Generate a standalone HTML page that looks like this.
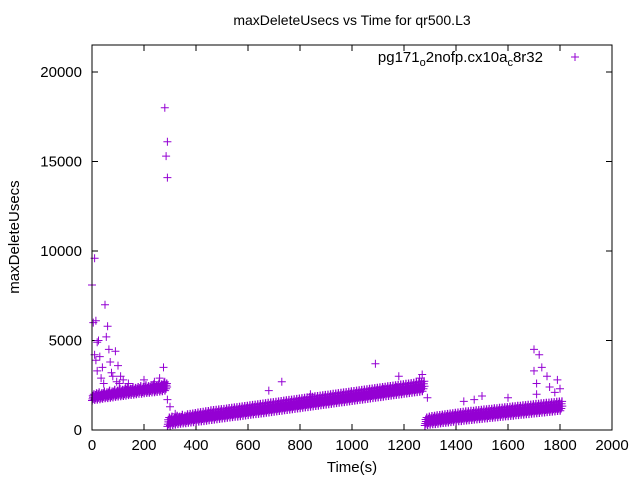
<!DOCTYPE html>
<html><head><meta charset="utf-8"><style>
body{margin:0;background:#fff}
svg{font-family:"Liberation Sans",sans-serif}
</style></head><body>
<svg id="chart" width="640" height="480" xmlns="http://www.w3.org/2000/svg">
<text x="352" y="25" font-size="14" text-anchor="middle">maxDeleteUsecs vs Time for qr500.L3</text>
<text transform="translate(19,237) rotate(-90)" font-size="15" text-anchor="middle">maxDeleteUsecs</text>
<text x="352" y="472" font-size="15" text-anchor="middle">Time(s)</text>
<g id="axes"></g>
<g id="marks"></g>
<rect x="92" y="45" width="520" height="385" fill="none" stroke="#000" stroke-width="1"/>
<text x="543" y="62" font-size="15" text-anchor="end">pg171<tspan font-size="11" dy="4">o</tspan><tspan dy="-4">2nofp.cx10a</tspan><tspan font-size="11" dy="4">c</tspan><tspan dy="-4">8r32</tspan></text>
<path d="M571 57h8M575 53v8" stroke="#9400d3" stroke-width="1"/>
</svg>
<script>
const xTicks=[0,200,400,600,800,1000,1200,1400,1600,1800,2000];
const yTicks=[0,5000,10000,15000,20000];
// band data: [time, low, high]
const band=[
[0,1650,2000],[10,1680,2050],[20,1700,2100],[30,1720,2050],[40,1750,2150],[50,1770,2100],[60,1780,2200],[70,1800,2150],[80,1820,2250],[90,1850,2200],[100,1870,2300],[110,1890,2250],[120,1900,2300],[130,1920,2350],[140,1950,2300],[150,1960,2400],[160,1980,2350],[170,2000,2400],[180,2020,2450],[190,2030,2400],[200,2050,2500],[210,2070,2450],[220,2080,2500],[230,2100,2550],[240,2110,2500],[250,2130,2600],[260,2150,2550],[270,2170,2650],[280,2200,2600],
[290,200,700],[300,250,750],[310,280,700],[320,300,800],[330,330,750],[340,350,850],[350,370,800],[360,380,880],[370,400,900],[380,420,920],[390,430,950],[400,450,980],[410,470,1000],[420,480,1020],[430,500,1050],[440,520,1060],[450,540,1100],[460,560,1120],[470,580,1130],[480,600,1150],[490,620,1170],[500,640,1180],[510,660,1200],[520,680,1230],[530,700,1240],[540,720,1260],[550,740,1280],[560,750,1300],[570,770,1320],[580,790,1340],[590,810,1360],[600,830,1380],[610,850,1400],[620,870,1420],[630,890,1440],[640,900,1460],[650,920,1480],[660,940,1500],[670,960,1520],[680,980,1540],[690,1000,1560],[700,1020,1580],[710,1040,1600],[720,1060,1620],[730,1080,1640],[740,1100,1660],[750,1120,1680],[760,1140,1700],[770,1160,1720],[780,1180,1740],[790,1200,1760],[800,1220,1780],[810,1240,1800],[820,1260,1820],[830,1280,1840],[840,1300,1860],[850,1320,1880],[860,1340,1900],[870,1360,1920],[880,1380,1940],[890,1400,1960],[900,1420,1980],[910,1440,2000],[920,1460,2020],[930,1480,2040],[940,1500,2060],[950,1520,2080],[960,1540,2100],[970,1560,2120],[980,1580,2140],[990,1600,2160],[1000,1620,2180],[1010,1640,2200],[1020,1660,2220],[1030,1680,2240],[1040,1700,2260],[1050,1720,2280],[1060,1740,2300],[1070,1760,2320],[1080,1780,2340],[1090,1800,2360],[1100,1820,2380],[1110,1840,2400],[1120,1860,2420],[1130,1880,2440],[1140,1900,2460],[1150,1920,2480],[1160,1940,2500],[1170,1960,2520],[1180,1980,2540],[1190,2000,2560],[1200,2020,2580],[1210,2040,2600],[1220,2060,2620],[1230,2080,2640],[1240,2100,2660],[1250,2120,2680],[1260,2140,2700],[1270,2160,2720],
[1280,250,700],[1290,280,750],[1300,300,780],[1310,320,800],[1320,330,820],[1330,350,840],[1340,370,860],[1350,390,880],[1360,400,900],[1370,420,920],[1380,440,940],[1390,460,960],[1400,470,980],[1410,490,1000],[1420,500,1020],[1430,520,1040],[1440,530,1050],[1450,550,1070],[1460,560,1080],[1470,580,1100],[1480,590,1110],[1490,610,1130],[1500,620,1150],[1510,640,1160],[1520,650,1180],[1530,670,1190],[1540,680,1210],[1550,700,1220],[1560,710,1240],[1570,730,1250],[1580,740,1270],[1590,760,1280],[1600,770,1300],[1610,790,1320],[1620,800,1330],[1630,820,1350],[1640,830,1360],[1650,850,1380],[1660,860,1390],[1670,880,1410],[1680,890,1420],[1690,910,1440],[1700,920,1460],[1710,940,1470],[1720,950,1490],[1730,970,1500],[1740,980,1520],[1750,1000,1530],[1760,1010,1550],[1770,1030,1560],[1780,1040,1580],[1790,1060,1590],[1800,1070,1600]];
const outlierTimes=[0,10,5,15,20,25,30,40,50,55,60,65,70,80,90,100,105,110,120,130,10,20,35,45,280,290,285,290,275,280,285,290,300,320,1090,1180,1270,1260,1290,1700,1720,1730,1750,1760,1780,1790,1710,1800,1500,1600,730,680,840,1170,1120,1470,1430,15,75,95,140,200,240,260,1700,1710];
const outlierValues=[8100,9600,6000,6100,4900,5000,4100,3500,7000,5200,5800,4500,3800,3000,4400,3600,2600,3000,2800,2400,4200,3300,2900,2600,18000,16100,15300,14100,3500,2700,2400,1700,1300,900,3700,3000,3100,2900,1800,4500,4200,3500,3000,2400,2100,2800,2000,2300,1900,1800,2700,2200,2000,2400,2300,1700,1600,3900,3200,2700,2600,2800,2700,2900,3300,2600];
const X=t=>92+t/2000*520, Y=v=>430-v/20000*358;
const NS="http://www.w3.org/2000/svg";
const axes=document.getElementById('axes'), marks=document.getElementById('marks');
xTicks.forEach(t=>{
 const p=document.createElementNS(NS,'path');
 
 
 p.setAttribute('d',`M${X(t)} 430v-6M${X(t)} 45v6`);p.setAttribute('stroke','#000');axes.appendChild(p);
 const tx=document.createElementNS(NS,'text');
 
 
 tx.setAttribute('x',X(t));tx.setAttribute('y',450);tx.setAttribute('font-size','15');tx.setAttribute('text-anchor','middle');tx.textContent=t;axes.appendChild(tx);
});
yTicks.forEach(v=>{
 const p=document.createElementNS(NS,'path');
 
 
 p.setAttribute('d',`M92 ${Y(v)}h6M612 ${Y(v)}h-6`);p.setAttribute('stroke','#000');axes.appendChild(p);
 const tx=document.createElementNS(NS,'text');
 
 
 tx.setAttribute('x',82);tx.setAttribute('y',Y(v)+5);tx.setAttribute('font-size','15');tx.setAttribute('text-anchor','end');tx.textContent=v;axes.appendChild(tx);
});
let d='';
function plus(t,v){const x=X(t),y=Y(v);d+=`M${(x-4).toFixed(1)} ${y.toFixed(1)}h8M${x.toFixed(1)} ${(y-4).toFixed(1)}v8`;}
band.forEach(([t,lo,hi])=>{
 for(let k=0;k<=4;k++){plus(t+k*2,lo+(hi-lo)*k/4);plus(t+k*2+1,lo+(hi-lo)*((k*3)%5)/4);}
});
outlierTimes.forEach((t,i)=>plus(t,outlierValues[i]));
const pth=document.createElementNS(NS,'path');


pth.setAttribute('d',d);pth.setAttribute('stroke','#9400d3');pth.setAttribute('stroke-width','1');pth.setAttribute('fill','none');
marks.appendChild(pth);
</script>
</body></html>
